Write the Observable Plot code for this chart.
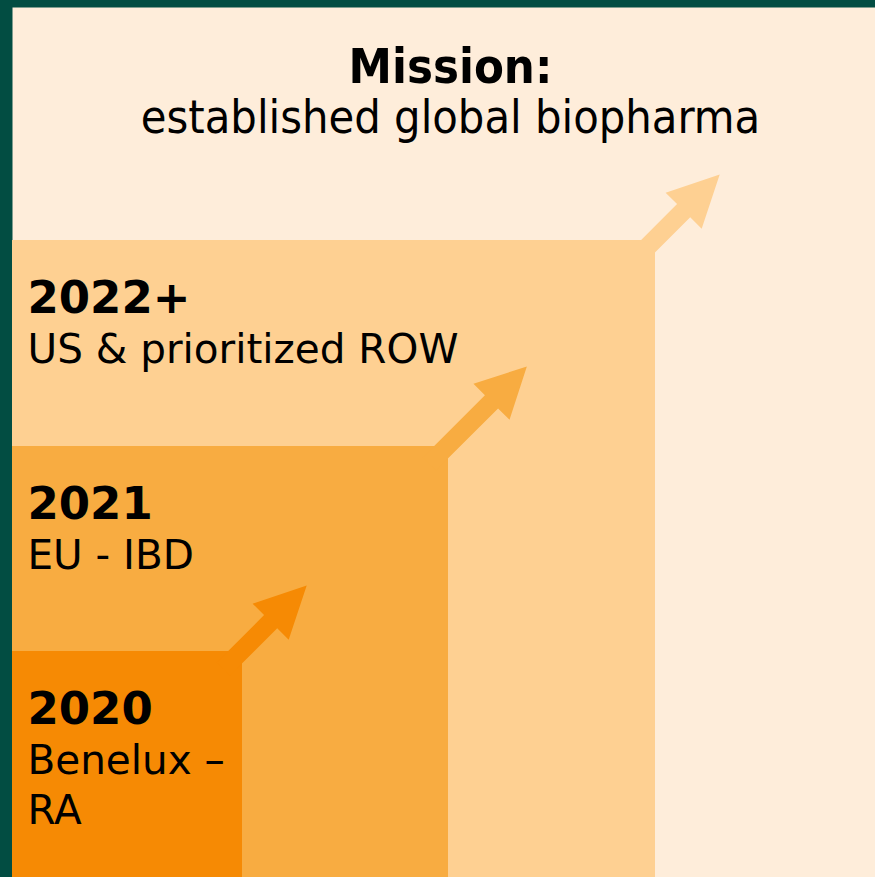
<!DOCTYPE html>
<html>
<head>
<meta charset="utf-8">
<script src="https://cdn.jsdelivr.net/npm/d3@7"></script>
<script src="https://cdn.jsdelivr.net/npm/@observablehq/plot@0.6"></script>
<style>
  html, body { margin: 0; padding: 0; background: #024d42; }
  #chart svg { display: block; }
  #chart g[font-family*="Condensed"] text { font-stretch: condensed; }
</style>
</head>
<body>
<div id="chart"></div>
<script>
// ---- data ----
const years = ["2020", "2021", "2022+"];
const descriptions = [["Benelux –", "RA"], ["EU - IBD"], ["US & prioritized ROW"]];
const stepRight = [230, 436, 643];   // right edge of each step (chart units)
const stepTop = [226, 431, 637];     // top of each step (chart units)
const stepColors = ["#f68a04", "#f8ac41", "#fed092"];
const missionTitle = "Mission:";
const missionText = "established global biopharma";

// ---- style ----
const FONT = '"DejaVu Sans", sans-serif';
const FONT_C = '"DejaVu Sans Condensed", "DejaVu Sans", sans-serif';
const bgCream = "#feedda";
const arrowTip = [92, 112, 92];   // arrow tip distance from corner
const arrowBase = [41, 62, 41];   // arrowhead base distance from corner
const shaftHalf = 9.3, headHalf = 25.5, shaftBack = -26, centerShift = 1.2;

const steps = years.map((y, i) => ({
  year: y, desc: descriptions[i], right: stepRight[i], top: stepTop[i], color: stepColors[i]
}));

// arrow polygons built from each step's top-right corner
const u = [Math.SQRT1_2, Math.SQRT1_2], n = [-Math.SQRT1_2, Math.SQRT1_2];
function arrowPoly(s, i) {
  const pts = [
    [shaftBack, shaftHalf], [arrowBase[i], shaftHalf], [arrowBase[i], headHalf],
    [arrowTip[i], 0], [arrowBase[i], -headHalf], [arrowBase[i], -shaftHalf], [shaftBack, -shaftHalf]
  ];
  return pts.map(([a, b]) => ({
    id: i, color: s.color,
    x: s.right + a * u[0] + (b + centerShift) * n[0],
    y: s.top + a * u[1] + (b + centerShift) * n[1]
  }));
}

const descLines = steps.flatMap(s => s.desc.map((t, k) => ({ text: t, top: s.top, k })));

const marks = [
  Plot.frame({ fill: bgCream, stroke: null }),
  Plot.rect([...steps].reverse(), { x1: 0, x2: "right", y1: 0, y2: "top", fill: "color" }),
  ...steps.map((s, i) => Plot.line(arrowPoly(s, i), {
    x: "x", y: "y", fill: s.color, stroke: null, curve: "linear-closed"
  })),
  Plot.text(steps, {
    x: 0, y: "top", text: "year", dx: 15, dy: 72, textAnchor: "start", lineAnchor: "bottom",
    fontSize: 45, fontWeight: "bold", fill: "black", fontFamily: FONT
  }),
  ...[0, 1].map(k => Plot.text(descLines.filter(d => d.k === k), {
    x: 0, y: "top", text: "text", dx: 15, dy: 122 + 50 * k, textAnchor: "start", lineAnchor: "bottom",
    fontSize: 40.5, fill: "black", fontFamily: FONT
  })),
  Plot.text([missionTitle], {
    frameAnchor: "top", text: d => d, dx: 6.5, dy: 75, lineAnchor: "bottom",
    fontSize: 48.5, fontWeight: "bold", fill: "black", fontFamily: FONT_C
  }),
  Plot.text([missionText], {
    frameAnchor: "top", text: d => d, dx: 6.5, dy: 125, lineAnchor: "bottom",
    fontSize: 46.5, fill: "black", fontFamily: FONT_C
  })
];

const chart = Plot.plot({
  width: 875, height: 877,
  marginLeft: 12, marginTop: 7, marginRight: 0, marginBottom: 0,
  x: { domain: [0, 863], axis: null },
  y: { domain: [0, 870], axis: null },
  color: { type: "identity" },
  style: { background: "#024d42", fontFamily: FONT },
  marks
});
document.getElementById("chart").appendChild(chart);
</script>
</body>
</html>
